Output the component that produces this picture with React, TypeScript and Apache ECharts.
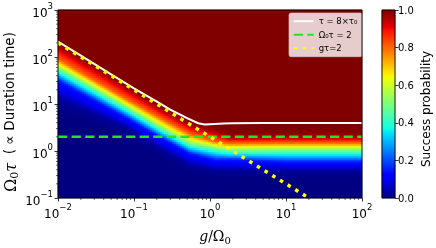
import React, { useEffect, useRef } from 'react';
import * as echarts from 'echarts';

// ---- data ----
// Columns (g/Ω0) at which the transition band was read
const bandG = [0.01, 0.079, 0.22, 0.55, 1.2, 1.8, 10, 100];
// Success-probability levels and the Ω0τ at which each level is reached per column
const levelP = [0, 0.02, 0.15, 0.5, 0.8, 0.97, 1];
const levelP000 = [7, 1.8, 0.7, 0.33, 0.28, 0.26, 0.25, 0.25];
const levelP002 = [12.6, 3.16, 1.12, 0.48, 0.38, 0.38, 0.37, 0.37];
const levelP015 = [32.4, 5.25, 2.0, 0.89, 0.65, 0.66, 0.59, 0.59];
const levelP050 = [58.9, 8.7, 3.24, 1.45, 1.15, 1.02, 1.05, 1.05];
const levelP080 = [91, 12.9, 5.1, 2.29, 1.58, 1.48, 1.5, 1.5];
const levelP097 = [178, 22.4, 8.1, 3.55, 2.6, 1.95, 2.0, 2.0];
const levelP100 = [230, 29, 10.5, 4.5, 3.3, 2.4, 2.5, 2.5];

// τ = 8×τ0 (white)
const whiteG = [0.01, 0.02, 0.05, 0.1, 0.2, 0.3, 0.5, 0.7, 0.85, 1.0, 1.5, 2, 5, 100];
const whiteY = [212, 107, 42.7, 21.6, 11.2, 7.6, 5.0, 3.9, 3.67, 3.72, 3.85, 3.89, 3.94, 3.94];
// Ω0τ = 2 (green dashed)
const greenG = [0.01, 100];
const greenY = [2, 2];
// gτ = 2 (yellow dotted)
const yellowG = [0.01, 0.1, 1, 10, 20];
const yellowY = [200, 20, 2, 0.2, 0.1];

const colorbarTicks = [0, 0.2, 0.4, 0.6, 0.8, 1.0];
const legendNames = ['τ = 8×τ₀', 'Ω₀τ = 2', 'gτ=2'];

// ---- jet colormap ----
const jetSeg = {
  r: [[0, 0], [0.35, 0], [0.66, 1], [0.89, 1], [1, 0.5]],
  g: [[0, 0], [0.125, 0], [0.375, 1], [0.64, 1], [0.91, 0], [1, 0]],
  b: [[0, 0.5], [0.11, 1], [0.34, 1], [0.65, 0], [1, 0]],
};
function segVal(seg: number[][], t: number) {
  for (let i = 0; i < seg.length - 1; i++) {
    if (t <= seg[i + 1][0]) {
      const f = (t - seg[i][0]) / (seg[i + 1][0] - seg[i][0]);
      return seg[i][1] + f * (seg[i + 1][1] - seg[i][1]);
    }
  }
  return seg[seg.length - 1][1];
}
function jet(t: number) {
  const c = (v: number) => Math.round(v * 255).toString(16).padStart(2, '0');
  return '#' + c(segVal(jetSeg.r, t)) + c(segVal(jetSeg.g, t)) + c(segVal(jetSeg.b, t));
}
const jetColors: string[] = [];
for (let i = 0; i <= 100; i++) jetColors.push(jet(i / 100));

// ---- heatmap field built from the read levels ----
const lg = (v: number) => Math.log10(v);
const levelArrays = [levelP000, levelP002, levelP015, levelP050, levelP080, levelP097, levelP100];
const bandLogG = bandG.map(lg);
function levelAt(arr: number[], xl: number) {
  if (xl <= bandLogG[0]) return lg(arr[0]);
  for (let i = 0; i < bandLogG.length - 1; i++) {
    if (xl <= bandLogG[i + 1]) {
      const t = (xl - bandLogG[i]) / (bandLogG[i + 1] - bandLogG[i]);
      return lg(arr[i]) * (1 - t) + lg(arr[i + 1]) * t;
    }
  }
  return lg(arr[arr.length - 1]);
}
function prob(xl: number, yl: number) {
  const lv = levelArrays.map((a) => levelAt(a, xl));
  if (yl <= lv[0]) return 0;
  for (let k = 0; k < lv.length - 1; k++) {
    if (yl <= lv[k + 1]) {
      return levelP[k] + ((levelP[k + 1] - levelP[k]) * (yl - lv[k])) / (lv[k + 1] - lv[k]);
    }
  }
  return 1;
}
const NX = 152;
const NY = 94;
const xCats: string[] = [];
const yCats: string[] = [];
for (let i = 0; i < NX; i++) xCats.push(String(i));
for (let j = 0; j < NY; j++) yCats.push(String(j));
const cells: number[][] = [];
for (let i = 0; i < NX; i++) {
  const xl = -2 + ((i + 0.5) * 4) / NX;
  for (let j = 0; j < NY; j++) {
    const yl = -1 + ((j + 0.5) * 4) / NY;
    cells.push([i, j, prob(xl, yl)]);
  }
}
const NCB = 188;
const cbCats: string[] = [];
const cbCells: number[][] = [];
for (let j = 0; j < NCB; j++) {
  cbCats.push(String(j));
  cbCells.push([0, j, (j + 0.5) / NCB]);
}

const zip = (a: number[], b: number[]) => a.map((v, i) => [v, b[i]]);

const SANS = 'DejaVu Sans';
const SERIF = 'DejaVu Serif';

const powLabel = (v: number) => {
  const e = Math.round(Math.log10(v));
  return '{b|10}{s|' + (e < 0 ? '−' + -e : String(e)) + '}';
};
const powRich = {
  b: { fontSize: 12, fontFamily: SANS, color: '#000', lineHeight: 18, verticalAlign: 'bottom' },
  s: { fontSize: 8.5, fontFamily: SANS, color: '#000', lineHeight: 8, verticalAlign: 'top' },
};

export default function App() {
  const ref = useRef<HTMLDivElement>(null);
  useEffect(() => {
    if (!ref.current) return;
    const chart = echarts.init(ref.current, undefined, { renderer: 'svg' });
    const L = 58, T = 10, W = 304, H = 188;
    const option: any = {
      animation: false,
      textStyle: { fontFamily: SANS },
      grid: [
        { left: L, top: T, width: W, height: H },
        { left: L, top: T, width: W, height: H },
        { left: 382, top: T, width: 13, height: H },
      ],
      visualMap: {
        type: 'continuous',
        show: false,
        min: 0,
        max: 1,
        seriesIndex: [0, 1],
        inRange: { color: jetColors },
      },
      xAxis: [
        { type: 'category', gridIndex: 0, data: xCats, show: false },
        {
          type: 'log', gridIndex: 1, min: 0.01, max: 100, logBase: 10,
          axisLine: { show: false },
          axisTick: { show: true, length: 3.5, lineStyle: { color: '#000', width: 0.8 } },
          axisLabel: { formatter: powLabel, rich: powRich, margin: 4, showMinLabel: true, showMaxLabel: true },
          splitLine: { show: false },
        },
        { type: 'category', gridIndex: 2, data: ['c'], show: false },
      ],
      yAxis: [
        { type: 'category', gridIndex: 0, data: yCats, show: false },
        {
          type: 'log', gridIndex: 1, min: 0.1, max: 1000, logBase: 10,
          axisLine: { show: false },
          axisTick: { show: true, length: 3.5, lineStyle: { color: '#000', width: 0.8 } },
          axisLabel: { formatter: powLabel, rich: powRich, margin: 5, showMinLabel: true, showMaxLabel: true },
          splitLine: { show: false },
        },
        { type: 'category', gridIndex: 2, data: cbCats, show: false },
        {
          type: 'value', gridIndex: 2, min: 0, max: 1, interval: 0.2, position: 'right',
          axisLine: { show: false },
          axisTick: { show: true, length: 3.5, lineStyle: { color: '#000', width: 0.8 } },
          axisLabel: {
            formatter: (v: number) => (colorbarTicks.some((t) => Math.abs(t - v) < 1e-9) ? v.toFixed(1) : ''),
            fontSize: 10, color: '#000', margin: 3,
          },
          splitLine: { show: false },
        },
      ],
      legend: {
        data: legendNames,
        orient: 'vertical',
        left: 289,
        top: 13,
        padding: [3.7, 5, 4, 3.7],
        itemWidth: 20,
        itemHeight: 8,
        itemGap: 4.5,
        itemStyle: { opacity: 0 },
        backgroundColor: 'rgba(255,255,255,0.8)',
        borderColor: 'rgba(204,204,204,0.8)',
        borderWidth: 0.8,
        borderRadius: 2,
        textStyle: { fontSize: 8.5, color: '#000', fontFamily: SANS, lineHeight: 8 },
        selectedMode: false,
      },
      series: [
        {
          type: 'heatmap', xAxisIndex: 0, yAxisIndex: 0, data: cells,
          progressive: 0, emphasis: { disabled: true }, silent: true,
        },
        {
          type: 'heatmap', xAxisIndex: 2, yAxisIndex: 2, data: cbCells,
          progressive: 0, emphasis: { disabled: true }, silent: true,
        },
        {
          type: 'line', name: legendNames[0], xAxisIndex: 1, yAxisIndex: 1,
          data: zip(whiteG, whiteY), symbol: 'none', smooth: false,
          lineStyle: { color: '#ffffff', width: 2 }, itemStyle: { color: '#ffffff' }, z: 5,
        },
        {
          type: 'line', name: legendNames[1], xAxisIndex: 1, yAxisIndex: 1,
          data: zip(greenG, greenY), symbol: 'none',
          lineStyle: { color: '#22e622', width: 2.5, type: [9.3, 4.3] }, itemStyle: { color: '#22e622' }, z: 5,
        },
        {
          type: 'line', name: legendNames[2], xAxisIndex: 1, yAxisIndex: 1,
          data: zip(yellowG, yellowY), symbol: 'none',
          lineStyle: { color: '#ffff00', width: 3.5, type: [3.5, 5.5] }, itemStyle: { color: '#ffff00' }, z: 6,
        },
      ],
    };
    chart.setOption(option);

    const px = (v: number) => chart.convertToPixel({ xAxisIndex: 1 }, v) as number;
    const py = (v: number) => chart.convertToPixel({ yAxisIndex: 1 }, v) as number;
    const elements: any[] = [];
    const x0 = px(0.01), x1 = px(100), y0 = py(1000), y1 = py(0.1);
    for (let d = -2; d < 2; d++) {
      for (let k = 2; k <= 9; k++) {
        const x = px(k * Math.pow(10, d));
        elements.push({ type: 'line', shape: { x1: x, y1: y1, x2: x, y2: y1 + 2 }, style: { stroke: '#000', lineWidth: 0.6 }, silent: true });
      }
    }
    for (let d = -1; d < 3; d++) {
      for (let k = 2; k <= 9; k++) {
        const y = py(k * Math.pow(10, d));
        elements.push({ type: 'line', shape: { x1: x0 - 2, y1: y, x2: x0, y2: y }, style: { stroke: '#000', lineWidth: 0.6 }, silent: true });
      }
    }
    elements.push({ type: 'rect', shape: { x: x0, y: y0, width: x1 - x0, height: y1 - y0 }, style: { fill: 'none', stroke: '#000', lineWidth: 0.9 }, z: 100, silent: true });
    elements.push({ type: 'rect', shape: { x: 382, y: T, width: 13, height: H }, style: { fill: 'none', stroke: '#000', lineWidth: 0.9 }, z: 100, silent: true });
    // axis titles
    elements.push({
      type: 'text', x: 215, y: 237, silent: true,
      style: {
        text: '{i|g}{n|/Ω}{sub|0}',
        align: 'center', verticalAlign: 'middle', textAlign: 'center', textVerticalAlign: 'middle',
        rich: {
          i: { fontFamily: SERIF, fontStyle: 'italic', fontSize: 14, color: '#000', lineHeight: 16, verticalAlign: 'top' },
          n: { fontFamily: SERIF, fontSize: 14, color: '#000', lineHeight: 16, verticalAlign: 'top' },
          sub: { fontFamily: SERIF, fontSize: 10, color: '#000', lineHeight: 10, verticalAlign: 'bottom' },
        },
      },
    });
    elements.push({
      type: 'text', x: 11, y: 112, rotation: Math.PI / 2, silent: true,
      style: {
        text: '{m|Ω}{sub|0}{t|τ}{n|  ( ∝ Duration time)}',
        align: 'center', verticalAlign: 'middle', textAlign: 'center', textVerticalAlign: 'middle',
        rich: {
          m: { fontFamily: SERIF, fontSize: 16, color: '#000', lineHeight: 18, verticalAlign: 'top' },
          t: { fontFamily: SERIF, fontStyle: 'italic', fontSize: 16, color: '#000', lineHeight: 18, verticalAlign: 'top' },
          sub: { fontFamily: SERIF, fontSize: 11, color: '#000', lineHeight: 11, verticalAlign: 'bottom' },
          n: { fontFamily: SANS, fontSize: 13.5, color: '#000', lineHeight: 18, verticalAlign: 'top' },
        },
      },
    });
    elements.push({
      type: 'text', x: 426, y: 109, rotation: Math.PI / 2, silent: true,
      style: {
        text: 'Success probability', fontFamily: SANS, fontSize: 12, fill: '#000',
        align: 'center', verticalAlign: 'middle', textAlign: 'center', textVerticalAlign: 'middle',
      },
    });
    chart.setOption({ graphic: { elements } });
    return () => chart.dispose();
  }, []);
  return <div ref={ref} style={{ position: 'fixed', left: 0, top: 0, width: 436, height: 248 }} />;
}
